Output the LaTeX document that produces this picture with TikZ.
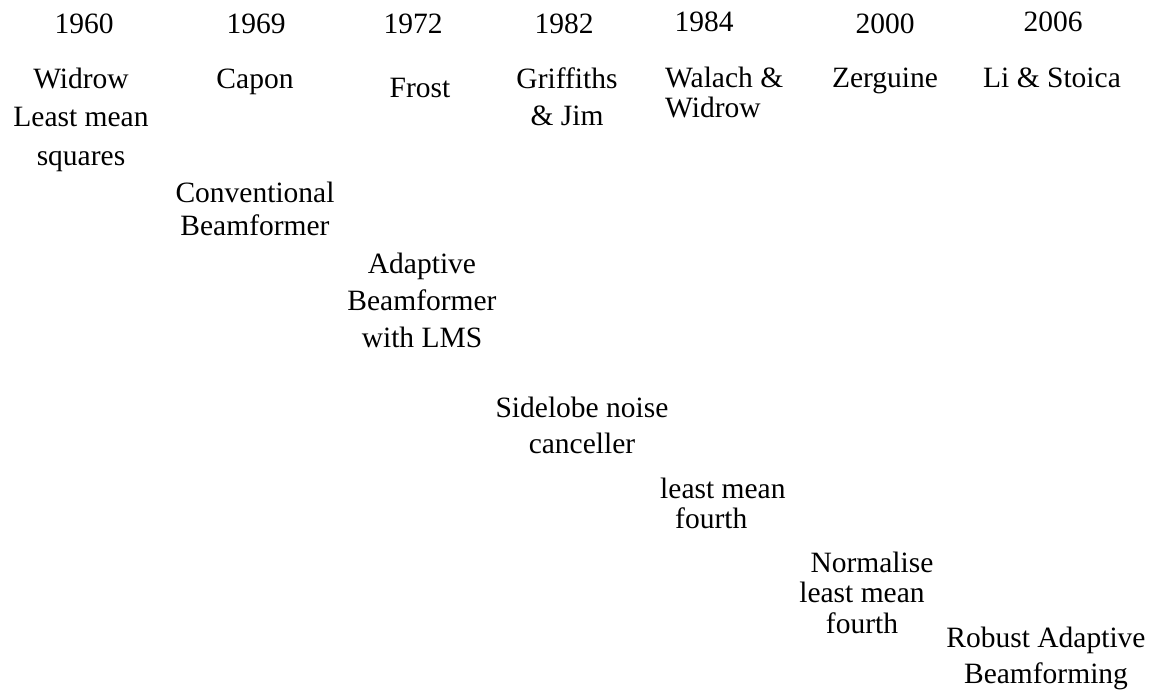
\documentclass[tikz,border=0pt]{standalone}
\usepackage{fontspec}
\setmainfont{Liberation Serif}
% fixed first-line height, so a node's north edge sits 25pt above its first baseline
\newcommand\topln{\rule{0pt}{25pt}}
\begin{document}
\begin{tikzpicture}[x=1pt,y=-1pt,
  lbl/.style={anchor=north,inner sep=0pt,align=center,
    font=\fontsize{29.5}{#1}\selectfont},
  lbl/.default=36.5,
  lbll/.style={lbl=#1,anchor=north west,align=left}]
\useasboundingbox (0,0) rectangle (1157,690);
% years (first baseline - 25)
\node[lbl] (y1960) at (84,8)   {\topln 1960};
\node[lbl] (y1969) at (256,8)  {\topln 1969};
\node[lbl] (y1972) at (413,8)  {\topln 1972};
\node[lbl] (y1982) at (564,8)  {\topln 1982};
\node[lbl] (y1984) at (704,6)  {\topln 1984};
\node[lbl] (y2000) at (885,8)  {\topln 2000};
\node[lbl] (y2006) at (1053,6) {\topln 2006};
% authors
\node[lbl=38.5] (widrow) at (81,63) {\topln Widrow\\Least mean\\squares};
\node[lbl] (capon) at (255,63) {\topln Capon};
\node[lbl] (frost) at (420,72) {\topln Frost};
\node[lbl=37] (griffiths) at (567,63) {\topln Griffiths\\\& Jim};
\node[lbll=30] (walach) at (665,62) {\topln Walach \&\\Widrow};
\node[lbl] (zerguine) at (885,62) {\topln Zerguine};
\node[lbl] (listoica) at (1052,62) {\topln Li \& Stoica};
% methods
\node[lbl=33] (conv) at (255,177) {\topln Conventional\\Beamformer};
\node[lbl=37] (adapt) at (422,248) {\topln Adaptive\\Beamformer\\with LMS};
\node[lbl=36] (sidelobe) at (582,392) {\topln Sidelobe noise\\canceller};
\node[lbll=30] (lmf) at (660,473) {\topln least mean\\\hspace*{15pt}fourth};
\node[lbl=30.5] (nlmf) at (862,547) {\topln\hspace*{20pt}Normalise\\least mean\\fourth};
\node[lbl=36] (robust) at (1046,622) {\topln Robust Adaptive\\Beamforming};
\end{tikzpicture}
\end{document}
